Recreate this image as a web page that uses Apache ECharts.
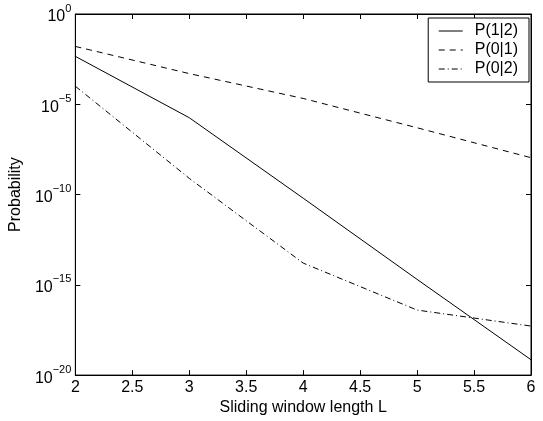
<!DOCTYPE html>
<html>
<head>
<meta charset="utf-8">
<script src="https://cdn.jsdelivr.net/npm/echarts@6/dist/echarts.min.js"></script>
<style>html,body{margin:0;padding:0;background:#fff}#c{width:543px;height:421px}</style>
</head>
<body>
<div id="c"></div>
<script>
var windowLengths = [2, 3, 4, 5, 6];
var p12 = [4.5e-3, 1.8e-6, 6.3e-11, 2.0e-15, 7.1e-20];
var p01 = [1.6e-2, 5.0e-4, 2.1e-5, 5.0e-7, 1.1e-8];
var p02 = [1.0e-4, 7.9e-10, 1.6e-14, 4.0e-17, 5.2e-18];
var seriesNames = ['P(1|2)', 'P(0|1)', 'P(0|2)'];
var xName = 'Sliding window length L';
var yName = 'Probability';

function pairs(v) { return windowLengths.map(function (x, i) { return [x, v[i]]; }); }

var font = 'Liberation Sans, Arial, Helvetica, sans-serif';
var chart = echarts.init(document.getElementById('c'), null, {renderer: 'canvas'});
var tickStyle = {show: true, inside: true, length: 5, lineStyle: {color: '#000', width: 1}};
var option = {
  animation: false,
  backgroundColor: '#fff',
  grid: {left: 72, right: 12, top: 14, bottom: 43, show: true, borderColor: '#000', borderWidth: 1, backgroundColor: 'transparent'},
  legend: {
    orient: 'vertical', right: 14, top: 18,
    data: seriesNames,
    itemWidth: 24, itemHeight: 16, itemGap: 3,
    itemStyle: {opacity: 0},
    lineStyle: {width: 1},
    backgroundColor: '#fff', borderColor: '#000', borderWidth: 1, borderRadius: 0,
    padding: [5, 11, 5, 10],
    textStyle: {fontFamily: font, fontSize: 16, color: '#000', padding: [0, 0, 0, 7]}
  },
  xAxis: [{
    type: 'value', min: 2, max: 6, interval: 0.5,
    name: xName, nameLocation: 'middle', nameGap: 20,
    nameTextStyle: {fontFamily: font, fontSize: 16, color: '#000'},
    axisLine: {show: true, lineStyle: {color: '#000', width: 1}},
    axisTick: tickStyle,
    axisLabel: {fontFamily: font, fontSize: 16, color: '#000', margin: 4},
    splitLine: {show: false}
  }, {
    type: 'value', min: 2, max: 6, interval: 0.5, position: 'top',
    axisLine: {show: true, lineStyle: {color: '#000', width: 1}},
    axisTick: tickStyle, axisLabel: {show: false}, splitLine: {show: false}
  }],
  yAxis: [{
    type: 'log', logBase: 10, min: 1e-20, max: 1, interval: 5,
    name: yName, nameLocation: 'middle', nameGap: 42,
    nameTextStyle: {fontFamily: font, fontSize: 16, color: '#000'},
    axisLine: {show: true, lineStyle: {color: '#000', width: 1}},
    axisTick: tickStyle,
    minorTick: {show: false},
    axisLabel: {
      margin: 4,
      formatter: function (v) {
        var e = Math.round(Math.log10(v));
        return '{b|10}{s|' + (e < 0 ? '\u2212' + (-e) : e) + '}';
      },
      rich: {
        b: {fontFamily: font, fontSize: 16, color: '#000', verticalAlign: 'bottom', lineHeight: 22, padding: [7, 0, 0, 0]},
        s: {fontFamily: font, fontSize: 11, color: '#000', verticalAlign: 'top', lineHeight: 22, padding: [0, 0, 8, 0]}
      }
    },
    splitLine: {show: false}
  }, {
    type: 'log', logBase: 10, min: 1e-20, max: 1, interval: 5, position: 'right',
    axisLine: {show: true, lineStyle: {color: '#000', width: 1}},
    axisTick: tickStyle, axisLabel: {show: false}, splitLine: {show: false}, minorTick: {show: false}
  }],
  series: [
    {name: seriesNames[0], type: 'line', data: pairs(p12), symbol: 'none', lineStyle: {color: '#000', width: 1, type: 'solid'}, itemStyle: {color: '#000'}},
    {name: seriesNames[1], type: 'line', data: pairs(p01), symbol: 'none', lineStyle: {color: '#000', width: 1, type: [6, 5]}, itemStyle: {color: '#000'}},
    {name: seriesNames[2], type: 'line', data: pairs(p02), symbol: 'none', lineStyle: {color: '#000', width: 1, type: [6, 3, 1, 3]}, itemStyle: {color: '#000'}}
  ]
};
chart.setOption(option);
</script>
</body>
</html>
